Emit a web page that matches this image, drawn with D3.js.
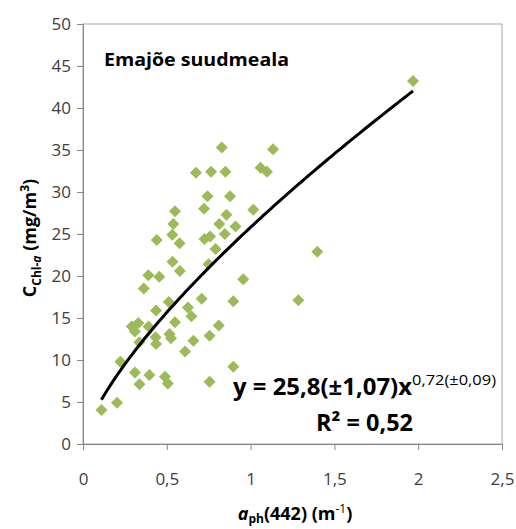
<!DOCTYPE html>
<html>
<head>
<meta charset="utf-8">
<script src="https://cdn.jsdelivr.net/npm/d3@7"></script>
<style>
  body { margin: 0; background: #fff; }
  text { font-family: "Open Sans", Lato, sans-serif; }
</style>
</head>
<body>
<div id="chart"></div>
<script>
// a_ph(442) values (m-1)
const aph = [0.828, 1.134, 0.674, 0.764, 0.850, 1.059, 1.098, 0.743, 0.722, 0.877,
  0.549, 1.016, 0.856, 0.539, 0.813, 0.910, 0.533, 0.440, 0.576, 0.725,
  0.758, 0.846, 0.791, 0.534, 0.578, 0.749, 0.390, 0.455, 0.956, 1.398,
  0.363, 0.512, 0.436, 0.708, 0.897, 1.285, 0.626, 0.647, 0.291, 0.330,
  0.310, 0.391, 0.549, 0.516, 0.525, 0.433, 0.336, 0.436, 0.659, 0.755,
  0.810, 0.609, 0.223, 0.897, 0.310, 0.396, 0.337, 0.489, 0.506, 0.755,
  0.110, 0.203, 1.969]
// C_Chl-a values (mg/m3)
const chl = [35.3, 35.1, 32.3, 32.4, 32.4, 32.9, 32.4, 29.5, 28.0, 29.5,
  27.7, 27.9, 27.3, 26.2, 26.2, 25.9, 24.9, 24.3, 23.9, 24.4,
  24.7, 25.0, 23.2, 21.7, 20.6, 21.4, 20.1, 19.9, 19.6, 22.9,
  18.5, 16.9, 15.9, 17.3, 17.0, 17.1, 16.25, 15.2, 14.0, 14.4,
  13.4, 14.0, 14.5, 13.1, 12.6, 12.7, 12.1, 11.9, 12.3, 12.9,
  14.1, 11.0, 9.8, 9.2, 8.5, 8.2, 7.1, 8.0, 7.2, 7.4,
  4.05, 4.9, 43.2]
const xTicks = [0, 0.5, 1, 1.5, 2, 2.5]
const yTicks = [0, 5, 10, 15, 20, 25, 30, 35, 40, 45, 50]
// power fit y = a * x^b
const fitA = 25.8
const fitB = 0.72

const width = 516, height = 529
const plotL = 83, plotR = 502, plotT = 24, plotB = 444

const svg = d3.select("#chart").append("svg")
  .attr("width", width).attr("height", height)

const x = d3.scaleLinear().domain([0, 2.5]).range([plotL, plotR])
const y = d3.scaleLinear().domain([0, 50]).range([plotB, plotT])
const fmt = d => String(d).replace(".", ",")

// plot area border
svg.append("rect")
  .attr("x", plotL).attr("y", plotT)
  .attr("width", plotR - plotL).attr("height", plotB - plotT)
  .attr("fill", "none").attr("stroke", "#a6a6a6").attr("stroke-width", 1)

//axes
const xAxis = svg.append("g").attr("transform", `translate(0,${plotB})`)
  .call(d3.axisBottom(x).tickValues(xTicks).tickFormat(fmt).tickSize(6).tickPadding(23))
const yAxis = svg.append("g").attr("transform", `translate(${plotL},0)`)
  .call(d3.axisLeft(y).tickValues(yTicks).tickSize(6).tickPadding(6))
for (const g of [xAxis, yAxis]) {
  g.selectAll("path, line").attr("stroke", "#868686")
  g.selectAll("text").attr("font-size", 17).attr("fill", "#404040")
    .attr("font-family", "'Open Sans', sans-serif")
}

// points
const pts = aph.map((v, i) => ({x: v, y: chl[i]}))
svg.selectAll(".pt")
  .data(pts)
  .enter()
  .append("path")
  .attr("class", "pt")
  .attr("d", d3.symbol(d3.symbolSquare, 72))
  .attr("transform", d => `translate(${x(d.x)},${y(d.y)}) rotate(45)`)
  .attr("fill", "#9bbb59")

// trendline from the fitted equation
const xmin = d3.min(aph), xmax = d3.max(aph)
const curve = d3.range(0, 101).map(i => {
  const xv = xmin + (xmax - xmin) * i / 100
  return [xv, fitA * Math.pow(xv, fitB)]
})
svg.append("path")
  .datum(curve)
  .attr("fill", "none").attr("stroke", "#000").attr("stroke-width", 3)
  .attr("d", d3.line().x(d => x(d[0])).y(d => y(d[1])))

// title
svg.append("text")
  .attr("x", 104).attr("y", 66)
  .attr("font-size", 18).attr("font-weight", "bold")
  .attr("textLength", 185).attr("lengthAdjust", "spacingAndGlyphs")
  .text("Emajõe suudmeala")

// equation
const eq = svg.append("text")
  .attr("x", 233).attr("y", 395)
  .attr("font-size", 23).attr("font-weight", "bold")
eq.append("tspan").attr("textLength", 179).attr("lengthAdjust", "spacingAndGlyphs")
  .text("y = 25,8(±1,07)x")
eq.append("tspan").attr("dy", -10).attr("font-size", 14).attr("font-weight", "normal")
  .attr("textLength", 84).attr("lengthAdjust", "spacingAndGlyphs")
  .text("0,72(±0,09)")

svg.append("text")
  .attr("x", 316).attr("y", 431)
  .attr("font-size", 23).attr("font-weight", "bold")
  .attr("textLength", 97).attr("lengthAdjust", "spacingAndGlyphs")
  .text("R² = 0,52")

// y axis label
const yl = svg.append("text")
  .attr("transform", "translate(36,238) rotate(-90)")
  .attr("text-anchor", "middle")
  .attr("font-size", 18).attr("font-weight", "bold")
yl.append("tspan").text("C")
yl.append("tspan").attr("dy", 5).attr("font-size", 12).text("Chl-")
yl.append("tspan").attr("font-size", 12).attr("font-style", "italic").text("a")
yl.append("tspan").attr("dy", -5).text(" (mg/m")
yl.append("tspan").attr("dy", -7).attr("font-size", 12).text("3")
yl.append("tspan").attr("dy", 7).text(")")

// x axis label
const xl = svg.append("text")
  .attr("x", 295).attr("y", 520)
  .attr("text-anchor", "middle")
  .attr("font-size", 18).attr("font-weight", "bold")
xl.append("tspan").attr("font-style", "italic").text("a")
xl.append("tspan").attr("dy", 3).attr("font-size", 12).text("ph")
xl.append("tspan").attr("dy", -3).text("(442) (m")
xl.append("tspan").attr("dy", -7).attr("font-size", 12).attr("font-weight", "normal").text("-1")
xl.append("tspan").attr("dy", 7).text(")")
</script>
</body>
</html>
